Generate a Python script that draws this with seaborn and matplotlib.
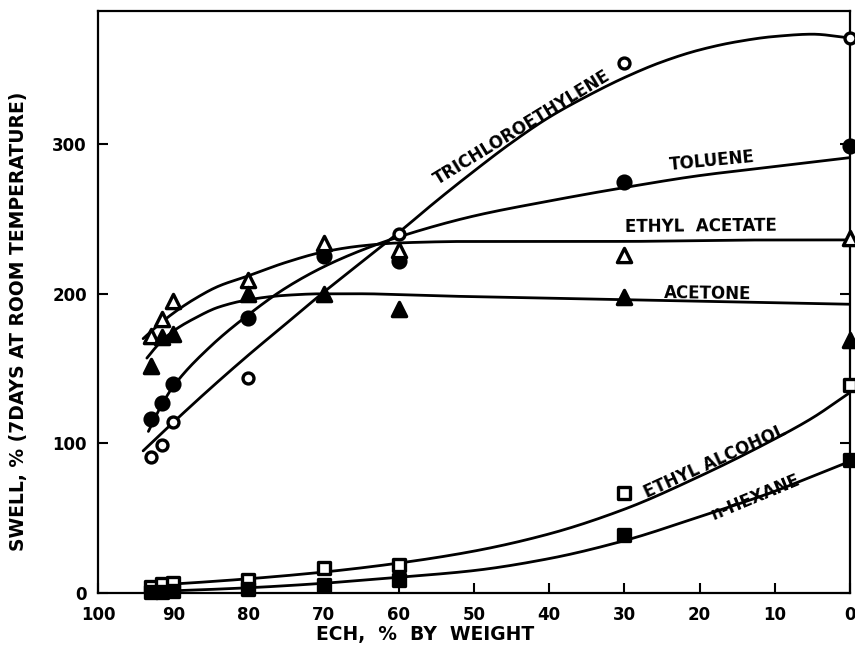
import numpy as np
import pandas as pd
import matplotlib
matplotlib.use("Agg")
import matplotlib.pyplot as plt
import seaborn as sns

# ECH content (% by weight) of each blend
ech_main = [93, 91.5, 90, 80, 70, 60, 30, 0]
ech_tce = [93, 91.5, 90, 80, 60, 30, 0]

# Measured swell, % after 7 days at room temperature
swell_trichloroethylene = [91, 99, 114, 144, 240, 354, 371]
swell_toluene = [116, 127, 140, 184, 225, 222, 275, 299]
swell_ethyl_acetate = [172, 183, 195, 209, 234, 229, 226, 237]
swell_acetone = [152, 171, 173, 200, 200, 190, 198, 169]
swell_ethyl_alcohol = [4, 6, 6.5, 9, 17, 19, 67, 139]
swell_n_hexane = [0.5, 1, 1.5, 2.5, 5.5, 9, 39, 89]

# Smoothed trend curves drawn through each set of measurements
trend_tce_x = [94, 90, 85, 80, 75, 70, 65, 60, 55, 50, 45, 40, 35, 30, 25, 20, 15, 10, 5, 0]
trend_tce_y = [95, 114, 137, 159, 180, 201, 221, 241, 262, 282, 301, 318, 332, 344.5, 355, 363, 368.5, 372, 373.5, 371]

trend_tol_x = [93.3, 91.5, 90, 85, 80, 75, 70, 65, 60, 50, 40, 30, 20, 10, 0]
trend_tol_y = [108, 126, 138, 165, 186, 204, 218, 229, 238, 252, 262, 271, 279, 285, 291]

trend_ea_x = [94, 92, 90, 87, 84, 80, 75, 70, 65, 60, 50, 40, 30, 20, 10, 0]
trend_ea_y = [170, 179, 187, 197, 205, 212, 221, 228, 232, 234, 235, 235, 235, 235.5, 236, 236]

trend_ac_x = [93.5, 92, 90, 87, 84, 80, 75, 70, 65, 60, 50, 40, 30, 20, 10, 0]
trend_ac_y = [157, 166, 175, 184, 191, 196, 199, 200, 200, 199.5, 198, 197, 196, 195, 194, 193]

trend_alc_x = [93.5, 90, 80, 70, 60, 50, 40, 30, 20, 10, 5, 0]
trend_alc_y = [5, 6, 9.5, 14, 20, 28, 39.5, 56, 78, 103, 117, 134]

trend_hex_x = [93.5, 90, 80, 70, 60, 50, 40, 30, 20, 10, 5, 0]
trend_hex_y = [1, 1.5, 3.5, 6.5, 10.5, 15, 23, 35, 51, 68, 78, 88]

x_ticks = [100, 90, 80, 70, 60, 50, 40, 30, 20, 10, 0]
y_ticks = [0, 100, 200, 300]

series = [
    # x, y, trend x, trend y, marker, filled, label, label x, label y, angle
    (ech_tce, swell_trichloroethylene, trend_tce_x, trend_tce_y, "o", False,
     "TRICHLOROETHYLENE", 43.6, 311, 31.5),
    (ech_main, swell_toluene, trend_tol_x, trend_tol_y, "o", True,
     "TOLUENE", 18.4, 289, 5.5),
    (ech_main, swell_ethyl_acetate, trend_ea_x, trend_ea_y, "^", False,
     "ETHYL  ACETATE", 19.8, 245, 0.5),
    (ech_main, swell_acetone, trend_ac_x, trend_ac_y, "^", True,
     "ACETONE", 18.9, 200, -0.8),
    (ech_main, swell_ethyl_alcohol, trend_alc_x, trend_alc_y, "s", False,
     "ETHYL ALCOHOL", 17.9, 88, 24.5),
    (ech_main, swell_n_hexane, trend_hex_x, trend_hex_y, "s", True,
     "n-HEXANE", 12.5, 64, 22.5),
]


def smooth_curve(xk, yk, n=400):
    """Monotone cubic (PCHIP) curve through the trend values."""
    xk = np.asarray(xk, float)
    yk = np.asarray(yk, float)
    order = np.argsort(xk)
    xk, yk = xk[order], yk[order]
    h = np.diff(xk)
    delta = np.diff(yk) / h
    m = np.zeros_like(yk)
    m[0], m[-1] = delta[0], delta[-1]
    for k in range(1, len(xk) - 1):
        if delta[k - 1] * delta[k] <= 0:
            m[k] = 0.0
        else:
            w1 = 2 * h[k] + h[k - 1]
            w2 = h[k] + 2 * h[k - 1]
            m[k] = (w1 + w2) / (w1 / delta[k - 1] + w2 / delta[k])
    xs = np.linspace(xk[0], xk[-1], n)
    idx = np.clip(np.searchsorted(xk, xs) - 1, 0, len(xk) - 2)
    t = (xs - xk[idx]) / h[idx]
    h00 = 2 * t**3 - 3 * t**2 + 1
    h10 = t**3 - 2 * t**2 + t
    h01 = -2 * t**3 + 3 * t**2
    h11 = t**3 - t**2
    ys = (h00 * yk[idx] + h10 * h[idx] * m[idx]
          + h01 * yk[idx + 1] + h11 * h[idx] * m[idx + 1])
    return xs, ys


sns.set_theme(style="white")
plt.rcParams["font.family"] = ["DejaVu Sans"]
plt.rcParams["font.weight"] = "bold"

fig = plt.figure(figsize=(8.55, 6.52), dpi=100)
ax = fig.add_axes([98 / 855, 1 - 593 / 652, 752 / 855, 582 / 652])

for xv, yv, tx, ty, marker, filled, text, lx, ly, ang in series:
    xs, ys = smooth_curve(tx, ty)
    sns.lineplot(x=xs, y=ys, ax=ax, color="black", linewidth=2.0,
                 sort=False, estimator=None)
    df = pd.DataFrame({"ech": xv, "swell": yv})
    if marker == "o":
        size = 85 if filled else 62
    elif marker == "^":
        size = 105
    else:
        size = 78
    sns.scatterplot(data=df, x="ech", y="swell", ax=ax, marker=marker,
                    s=size, facecolor="black" if filled else "white",
                    edgecolor="black", linewidth=2.4, zorder=5, clip_on=False)
    ax.text(lx, ly, text, rotation=ang, rotation_mode="anchor",
            ha="center", va="center", fontsize=12, fontweight="bold",
            color="black")

ax.set_xlim(100, 0)
ax.set_ylim(0, 389)
ax.set_xticks(x_ticks)
ax.set_xticklabels([str(v) for v in x_ticks])
ax.set_yticks(y_ticks)
ax.set_yticklabels([str(v) for v in y_ticks])

for spine in ax.spines.values():
    spine.set_visible(True)
    spine.set_color("black")
    spine.set_linewidth(1.6)

ax.tick_params(axis="x", direction="in", length=7, width=1.5, pad=9,
               labelsize=12, colors="black", bottom=True, top=False)
ax.tick_params(axis="y", direction="in", length=7, width=1.5, pad=8,
               labelsize=12, colors="black", left=True, right=True)
for lab in ax.get_xticklabels() + ax.get_yticklabels():
    lab.set_fontweight("bold")

ax.set_xlabel("ECH,  %  BY  WEIGHT", fontsize=13.5, fontweight="bold",
              color="black")
ax.xaxis.label.set_va("center")
ax.xaxis.set_label_coords(0.435, -0.072)
ax.set_ylabel("SWELL, % (7DAYS AT ROOM TEMPERATURE)", fontsize=13.5,
              fontweight="bold", color="black")
ax.yaxis.label.set_va("center")
ax.yaxis.set_label_coords(-0.106, 0.466)

fig.savefig("out.png", dpi=100, facecolor="white")
